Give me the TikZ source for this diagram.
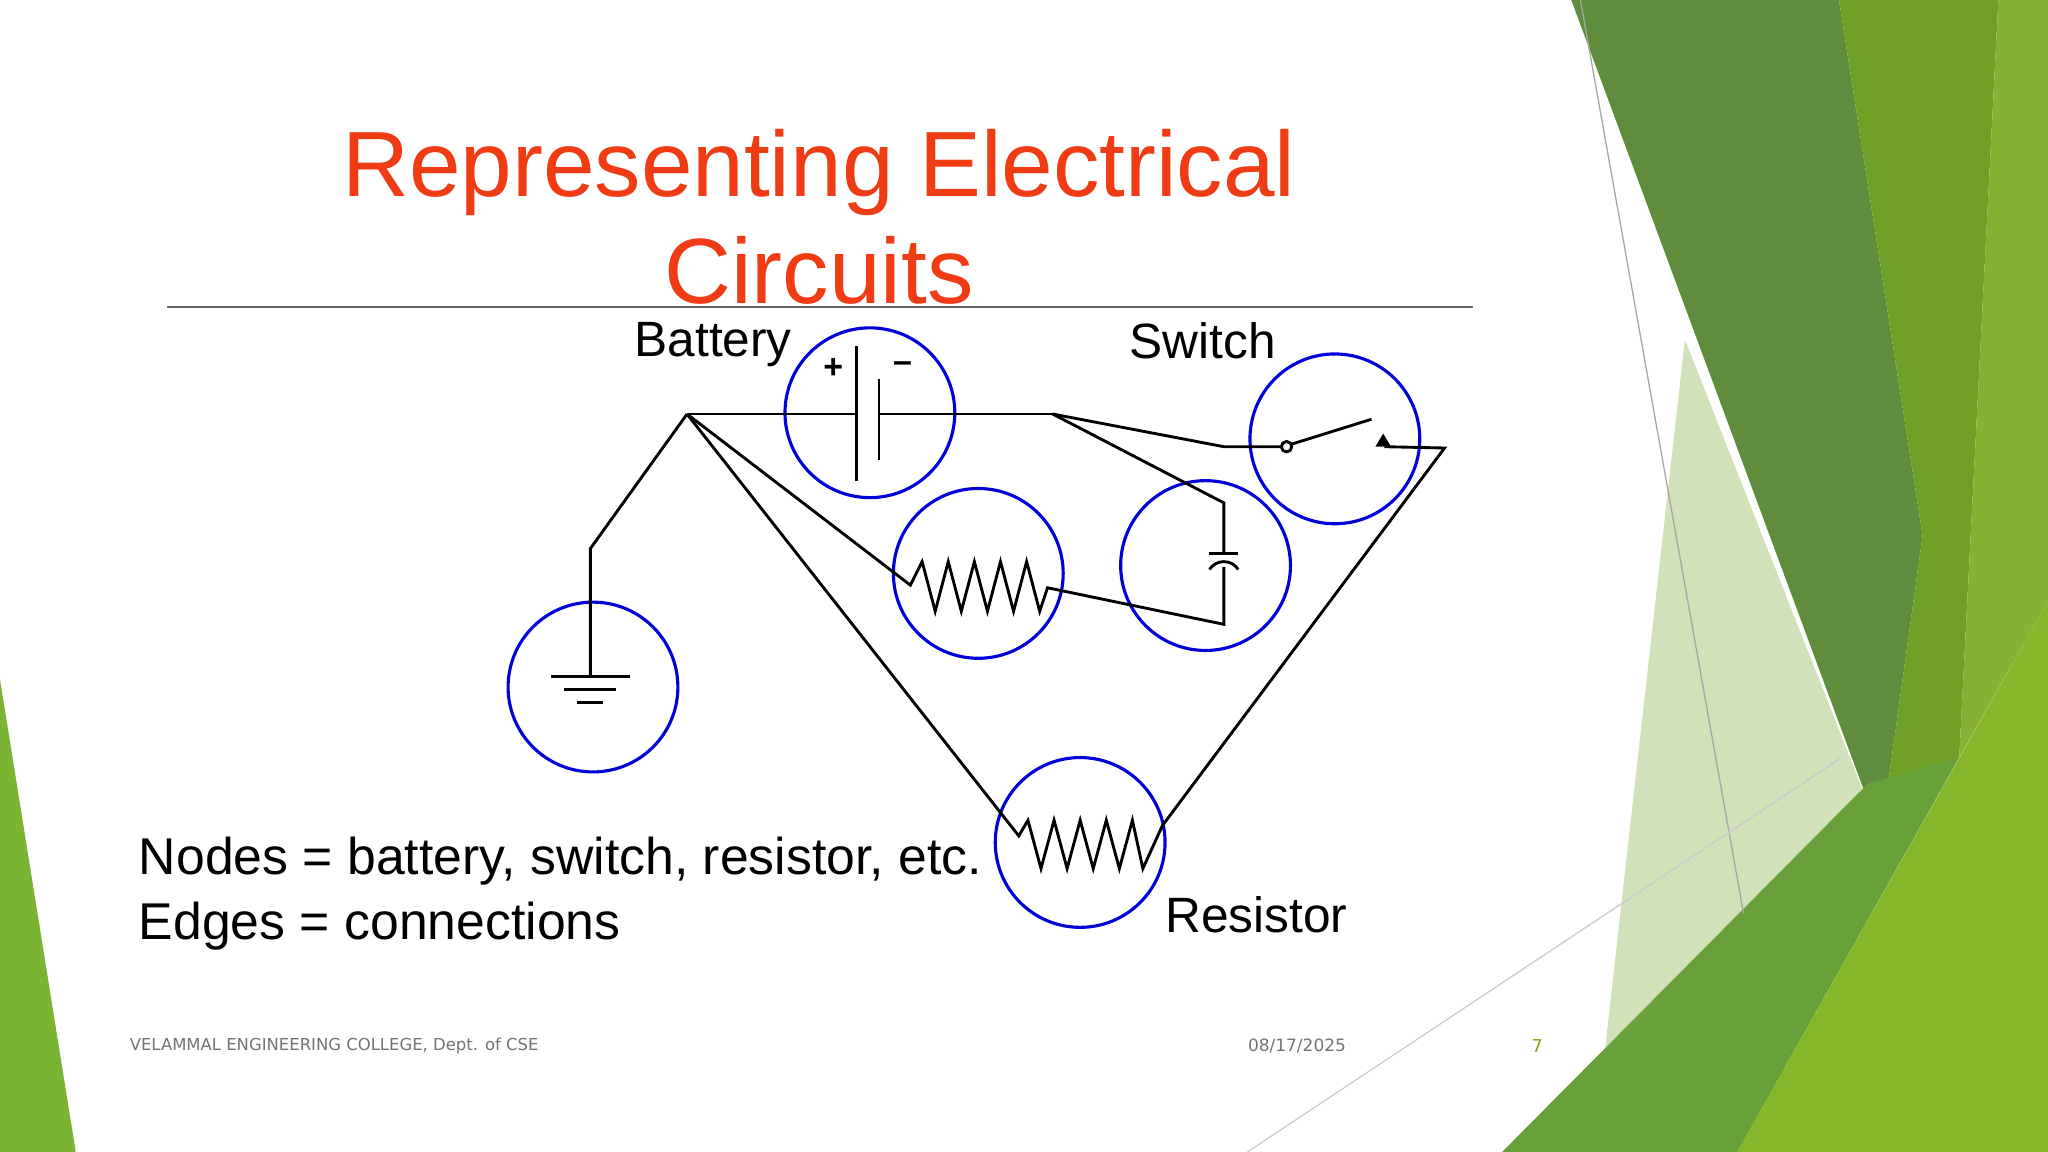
\documentclass[tikz,border=0pt]{standalone}
\usepackage{fontspec}
\setmainfont{Liberation Sans}
\newfontfamily\foot{DejaVu Sans}
\begin{document}
\begin{tikzpicture}[x=0.5pt,y=-0.5pt,
  comp/.style={draw=blue!85!black,line width=1.2pt,circle,minimum size=65pt,inner sep=0pt},
  wire/.style={line width=1.1pt,black},
  lbl/.style={font=\fontsize{19}{22}\selectfont,inner sep=0pt}]
\useasboundingbox (0,0) rectangle (1568,882);
\fill[white] (0,0) rectangle (1568,882);
% decorations
\fill[color={rgb,255:red,122;green,180;blue,50}] (0,520) -- (58,882) -- (0,882) -- cycle;
\fill[color={rgb,255:red,96;green,140;blue,62}] (1203,0) -- (1408,0) -- (1472,410) -- (1440,640) -- cycle;
\fill[color={rgb,255:red,114;green,160;blue,38}] (1408,0) -- (1530,0) -- (1500,580) -- (1440,640) -- (1472,410) -- cycle;
\fill[color={rgb,255:red,134;green,178;blue,52}] (1530,0) -- (1568,0) -- (1568,460) -- (1500,580) -- cycle;
\fill[color={rgb,255:red,140;green,180;blue,80},opacity=0.4] (1290,260) -- (1440,640) -- (1340,882) -- (1220,882) -- cycle;
\fill[color={rgb,255:red,104;green,160;blue,58}] (1150,882) -- (1430,600) -- (1500,580) -- (1330,882) -- cycle;
\fill[color={rgb,255:red,136;green,182;blue,42}] (1330,882) -- (1568,460) -- (1568,882) -- cycle;
\draw[gray!70,line width=0.5pt] (1210,0) -- (1335,700);
\draw[gray!40,line width=0.5pt] (955,882) -- (1410,580);
% title
\node[text={rgb,255:red,240;green,60;blue,20},font=\fontsize{35.5}{41}\selectfont,align=center] (title) at (627,166) {Representing Electrical\\Circuits};
\draw[gray!80!black,line width=1pt] (128,235) -- (1128,235);
% circles
\node[comp] (bat) at (666,316) {};
\node[comp] (r1) at (749,439) {};
\node[comp] (cap) at (923,433) {};
\node[comp] (sw) at (1022,336) {};
\node[comp] (gnd) at (454,526) {};
\node[comp] (r2) at (827,645) {};
% labels
\node[lbl] (lb) at (546,264) {Battery};
\node[lbl] (ls) at (921,261) {Switch};
\node[lbl] (lr) at (962,700) {Resistor};
% coordinates
\coordinate (A) at (526,317);
\coordinate (B) at (806,317);
% battery
\draw[wire] (A) -- (656,317); \draw[wire] (673,317) -- (B);
\draw[wire] (656,265) -- (656,368);
\draw[wire] (673,290) -- (673,352);
\node[font=\fontsize{13}{13}\selectfont\bfseries] (plus) at (638,282) {+};
\node[font=\fontsize{13}{13}\selectfont\bfseries] (minus) at (691,281) {--};
% ground
\draw[wire] (A) -- (452,420) -- (452,518);
\draw[wire] (422,518) -- (482,518);
\draw[wire] (432,528) -- (472,528);
\draw[wire] (442,538) -- (462,538);
% resistor 2
\draw[wire] (A) -- (780,640) -- (787,628) -- (797,665) -- (807,628) -- (817,665) -- (827,628) -- (837,665) -- (847,628) -- (857,665) -- (867,628) -- (875,665) -- (890,632) -- (1106,343) -- (1060,342);
% resistor 1
\draw[wire] (A) -- (697,448) -- (706,430) -- (716,468) -- (726,430) -- (736,468) -- (746,430) -- (756,468) -- (766,430) -- (776,468) -- (786,430) -- (796,468) -- (802,450) -- (937,478) -- (937,434);
\draw[wire] (926,436) .. controls (931,428) and (943,428) .. (948,436);
\draw[wire] (926,424) -- (948,424);
\draw[wire] (B) -- (937,385) -- (937,424);
% switch
\draw[wire] (B) -- (937,342) -- (981,342);
\draw[wire] (985,342) circle (4);
\draw[wire] (989,340) -- (1050,321);
\fill (1053,342) -- (1059,332) -- (1065,342) -- cycle;
% text
\node[anchor=west,inner sep=0pt,font=\fontsize{19.8}{25}\selectfont,align=left] (txt) at (106,684) {Nodes = battery, switch, resistor, etc.\\Edges = connections};
\node[anchor=west,inner sep=0pt,text=gray!90!black,font=\foot\fontsize{6.3}{8}\selectfont] (f1) at (99,801) {VELAMMAL ENGINEERING COLLEGE, Dept. of CSE};
\node[text=gray!90!black,font=\foot\fontsize{6.5}{8}\selectfont] (f2) at (993,801) {08/17/2025};
\node[text={rgb,255:red,140;green,170;blue,20},font=\foot\fontsize{6.8}{8}\selectfont] (f3) at (1177,801) {7};
\end{tikzpicture}
\end{document}
